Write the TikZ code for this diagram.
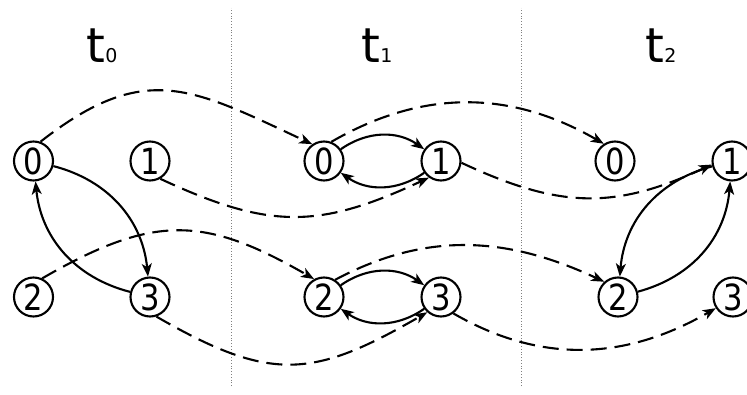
\documentclass[tikz,border=0pt]{standalone}
\usepackage{fontspec}
\setmainfont{DejaVu Sans}
\newfontfamily\digitfont[FakeStretch=0.85]{DejaVu Sans}
\usetikzlibrary{arrows.meta}
\begin{document}
\begin{tikzpicture}[x=1pt, y=1pt, >={Stealth[length=13pt,width=10pt,inset=3.5pt]},
    state/.style={circle, draw, line width=2.1pt, minimum size=39pt, inner sep=0pt,
      font=\digitfont\fontsize{36}{36}\selectfont},
    link/.style={->, line width=2.1pt},
    jump/.style={->, line width=2.1pt, dash pattern=on 16pt off 8pt}]
	\useasboundingbox (0,0) rectangle (747,394);
	% time separators
	\foreach \x in {231, 521} {
		\draw[gray, line width=0.8pt, dotted] (\x,8) -- (\x,386);
	}
	% titles
	\foreach \t / \x in {0/102, 1/377, 2/661} {
		\node[anchor=base, inner sep=0pt] (title\t) at (\x,331)
			{\fontsize{48}{48}\selectfont t{\fontsize{19}{19}\selectfont\t}};
	}
	% states
	\foreach \n / \x / \y in {0/33.5/233, 1/150/233, 2/33.5/97, 3/150/97} {
		\node[state] (a\n) at (\x,\y) {\n};
	}
	\foreach \n / \x / \y in {0/324/233, 1/441/233, 2/324/97, 3/441/97} {
		\node[state] (b\n) at (\x,\y) {\n};
	}
	\foreach \n / \x / \y in {0/615/233, 1/732/233, 2/618/97, 3/733/97} {
		\node[state] (c\n) at (\x,\y) {\n};
	}
	% links inside each time step
	\draw[link] (a0) to[bend left=35] (a3);
	\draw[link] (a3) to[bend left=35] (a0);
	\draw[link] (b0) to[bend left=35] (b1);
	\draw[link] (b1) to[bend left=35] (b0);
	\draw[link] (b2) to[bend left=35] (b3);
	\draw[link] (b3) to[bend left=35] (b2);
	\draw[link] (c2) to[bend right=35] (c1);
	\draw[link] (c1) to[bend right=35] (c2);
	% moves to the next time step
	\draw[jump] (a0.70) to[out=38, in=155, looseness=1.25] (b0.125);
	\draw[jump] (a1.-60) to[out=-25, in=-155, looseness=1.15] (b1.-126);
	\draw[jump] (a2.65) to[out=30, in=150, looseness=1.2] (b2.119);
	\draw[jump] (a3.-72) to[out=-30, in=-150, looseness=1.25] (b3.-132);
	\draw[jump] (b0.69) to[out=30, in=150] (c0.123);
	\draw[jump] (b1.-5) to[out=-25, in=-155, looseness=1.1] (c1.-170);
	\draw[jump] (b2.57) to[out=28, in=155] (c2.132);
	\draw[jump] (b3.-53) to[out=-30, in=-150] (c3.-147);
\end{tikzpicture}
\end{document}
